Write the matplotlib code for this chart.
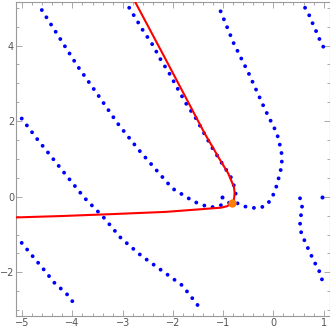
import matplotlib
matplotlib.use("Agg")
import matplotlib.pyplot as plt
import numpy as np
from matplotlib.ticker import MultipleLocator

# blue zero-contours (dotted)
curve_a_x = [-5.01, -4.80, -4.58, -4.35, -4.12, -3.90]
curve_a_y = [-1.22, -1.56, -1.91, -2.29, -2.56, -2.94]

curve_b_x = [-5.01, -4.71, -4.42, -4.18, -3.76, -3.39, -3.03, -2.63, -2.14, -1.81, -1.43]
curve_b_y = [2.07, 1.54, 1.06, 0.66, -0.03, -0.53, -1.10, -1.56, -2.03, -2.35, -3.00]

curve_c_x = [-4.61, -4.25, -3.89, -3.49, -3.10, -2.68, -2.30, -2.01, -1.58, -1.28,
             -1.11, -0.95, -0.83, -0.72, -0.59, -0.46, -0.30, -0.15, -0.03, 0.07,
             0.17, 0.16, 0.07, -0.16, -0.49, -0.79, -1.08]
curve_c_y = [4.94, 4.19, 3.44, 2.69, 1.94, 1.24, 0.66, 0.22, -0.13, -0.28,
             -0.26, -0.17, -0.15, -0.17, -0.25, -0.29, -0.30, -0.24, -0.04, 0.31,
             0.84, 1.20, 1.68, 2.29, 3.26, 4.06, 5.00]

curve_d_x = [-2.87, -2.60, -2.40, -2.24, -2.07, -1.91, -1.74, -1.54, -1.38, -1.21,
             -1.02, -0.85, -0.79, -0.75, -0.80]
curve_d_y = [5.00, 4.41, 4.01, 3.62, 3.26, 2.87, 2.47, 2.07, 1.68, 1.28,
             0.88, 0.53, 0.31, 0.09, -0.10]

curve_e_x = [0.53, 0.57, 0.55, 0.53, 0.55, 0.61, 0.68, 0.75, 0.83, 0.91, 0.97, 1.00]
curve_e_y = [-0.04, -0.26, -0.48, -0.70, -0.93, -1.13, -1.34, -1.54, -1.76, -1.96, -2.20, -2.40]

curve_f_x = [0.63, 0.71, 0.78, 0.85, 0.92, 1.00]
curve_f_y = [5.00, 4.81, 4.59, 4.38, 4.16, 3.95]

stray_x = [-1.02, 0.97]
stray_y = [0.00, 0.00]

# red path through the root
path_x = [-5.20, -4.22, -3.23, -2.14, -1.45, -1.05, -0.92, -0.83, -0.786, -0.77,
          -0.786, -0.90, -1.06, -1.37, -2.19, -2.81]
path_y = [-0.55, -0.51, -0.46, -0.40, -0.33, -0.29, -0.25, -0.16, -0.07, 0.09,
          0.26, 0.62, 0.97, 1.68, 3.75, 5.30]

root_x = [-0.83]
root_y = [-0.16]

fig = plt.figure(figsize=(3.3, 3.3), dpi=100)
ax = fig.add_axes([0.049, 0.0418, 0.95, 0.953])

dot_style = dict(color="blue", lw=2.8, ls=(0, (0.01, 2.2)),
                 dash_capstyle="round", solid_capstyle="round")
for cx, cy in [(curve_a_x, curve_a_y), (curve_b_x, curve_b_y), (curve_c_x, curve_c_y),
               (curve_d_x, curve_d_y), (curve_e_x, curve_e_y), (curve_f_x, curve_f_y)]:
    ax.plot(cx, cy, **dot_style)
ax.plot(stray_x, stray_y, "o", color="blue", ms=2.9, mew=0)

ax.plot(path_x, path_y, color="red", lw=1.5, zorder=3)
ax.plot(root_x, root_y, "o", color=(1, 0.5, 0), ms=6, mew=0, zorder=4)

ax.set_xlim(-5.12, 1.12)
ax.set_ylim(-3.16, 5.16)

ax.xaxis.set_major_locator(MultipleLocator(1))
ax.xaxis.set_minor_locator(MultipleLocator(0.2))
ax.yaxis.set_major_locator(MultipleLocator(2))
ax.yaxis.set_minor_locator(MultipleLocator(0.5))

frame_col = "#9a9a9a"
for s in ax.spines.values():
    s.set_color(frame_col)
    s.set_linewidth(0.8)
ax.tick_params(which="both", direction="in", top=True, right=True,
               color=frame_col, width=0.6, labelsize=7, labelcolor="#555555", pad=1.5)
ax.tick_params(which="major", length=4)
ax.tick_params(which="minor", length=2)

ax.set_xticklabels([f"{int(v)}".replace("-", "\u2212") for v in ax.get_xticks()])
ax.set_yticklabels([f"{int(v)}".replace("-", "\u2212") for v in ax.get_yticks()])

fig.savefig("out.png", dpi=100)
